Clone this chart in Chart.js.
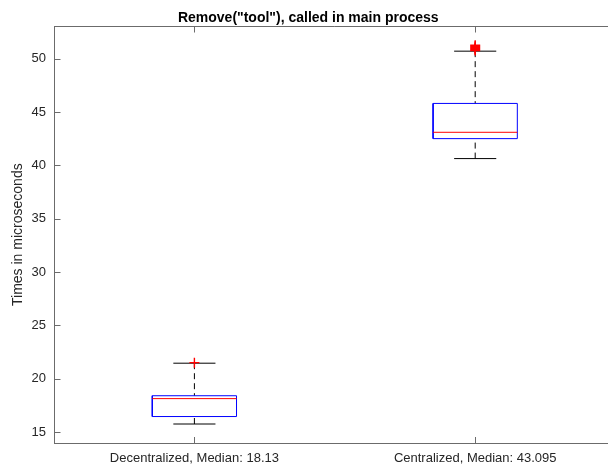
<!DOCTYPE html>
<html>
<head>
<meta charset="utf-8">
<script src="https://cdn.jsdelivr.net/npm/chart.js@4.4.1/dist/chart.umd.min.js"></script>
<style>
  html, body { margin: 0; padding: 0; overflow: hidden; background: #ffffff; }
  canvas { display: block; }
</style>
</head>
<body>
<canvas id="c" width="622" height="466"></canvas>
<script>
// Box plot summary per group (microseconds)
const categories  = ['Decentralized', 'Centralized'];
const positions   = [1, 2];
const medians     = [18.13, 43.095];
const q1          = [16.45, 42.5];
const q3          = [18.4, 45.8];
const whiskerLow  = [15.75, 40.63];
const whiskerHigh = [21.45, 50.7];
const outliers    = [[21.5], [50.75, 50.85, 50.95, 51.05, 51.15, 51.25]];
const yTicks      = [15, 20, 25, 30, 35, 40, 45, 50];

const FONT = "'Liberation Sans', Arial, Helvetica, sans-serif";
const AXIS = '#6b6b6b';
const TEXT = '#262626';
const BOX_HALF = 0.15;
const CAP_HALF = 0.075;

Chart.defaults.font.family = FONT;

function seg(points, color, extra) {
  return Object.assign({
    data: points,
    showLine: true,
    fill: false,
    tension: 0,
    pointRadius: 0,
    pointHoverRadius: 0,
    borderColor: color,
    borderWidth: 1,
    borderJoinStyle: 'miter'
  }, extra || {});
}

const datasets = [];
positions.forEach((x, i) => {
  // outliers
  datasets.push({
    data: outliers[i].map(v => ({ x: x, y: v })),
    showLine: false,
    pointStyle: 'cross',
    pointRadius: 5,
    pointHoverRadius: 5,
    pointBorderColor: '#ff0000',
    pointBorderWidth: 1.4,
    order: 0
  });
  // median
  datasets.push(seg([{ x: x - BOX_HALF, y: medians[i] }, { x: x + BOX_HALF, y: medians[i] }], '#ff0000', { order: 1 }));
  // box
  datasets.push(seg([
    { x: x - BOX_HALF, y: q1[i] }, { x: x + BOX_HALF, y: q1[i] },
    { x: x + BOX_HALF, y: q3[i] }, { x: x - BOX_HALF, y: q3[i] },
    { x: x - BOX_HALF, y: q1[i] }
  ], '#0000ff', { order: 2 }));
  // whiskers (dashed)
  datasets.push(seg([{ x: x, y: whiskerHigh[i] }, { x: x, y: q3[i] }], '#000000', { borderDash: [6, 4], order: 3 }));
  datasets.push(seg([{ x: x, y: whiskerLow[i] }, { x: x, y: q1[i] }], '#000000', { borderDash: [6, 4], order: 3 }));
  // whisker caps
  datasets.push(seg([{ x: x - CAP_HALF, y: whiskerHigh[i] }, { x: x + CAP_HALF, y: whiskerHigh[i] }], '#000000', { order: 3 }));
  datasets.push(seg([{ x: x - CAP_HALF, y: whiskerLow[i] }, { x: x + CAP_HALF, y: whiskerLow[i] }], '#000000', { order: 3 }));
});

// Top frame line and inward tick marks
const frame = {
  id: 'frame',
  afterDraw(chart) {
    const { ctx, chartArea, scales } = chart;
    const { left, right, top, bottom } = chartArea;
    ctx.save();
    ctx.strokeStyle = AXIS;
    ctx.lineWidth = 1;
    ctx.beginPath();
    const ty = Math.round(top) + 0.5;
    ctx.moveTo(left, ty); ctx.lineTo(right, ty);
    const lx = Math.round(left) + 0.5;
    yTicks.forEach(v => {
      const py = Math.round(scales.y.getPixelForValue(v)) + 0.5;
      ctx.moveTo(lx, py); ctx.lineTo(lx + 6, py);
    });
    positions.forEach(v => {
      const px = Math.round(scales.x.getPixelForValue(v)) + 0.5;
      ctx.moveTo(px, bottom); ctx.lineTo(px, bottom - 6);
      ctx.moveTo(px, ty); ctx.lineTo(px, ty + 6);
    });
    ctx.stroke();
    ctx.restore();
  }
};

new Chart(document.getElementById('c'), {
  type: 'scatter',
  data: { datasets },
  plugins: [frame],
  options: {
    responsive: false,
    animation: false,
    events: [],
    layout: { padding: { left: 0, right: 5.5, top: 0, bottom: 0 } },
    plugins: {
      legend: { display: false },
      tooltip: { enabled: false },
      title: {
        display: true,
        text: 'Remove("tool"), called in main process',
        color: '#000000',
        font: { size: 14, weight: 'bold', family: FONT },
        padding: { top: 9.5, bottom: 0 }
      }
    },
    scales: {
      x: {
        type: 'linear',
        min: 0.5,
        max: 2.5,
        afterBuildTicks: s => { s.ticks = positions.map(v => ({ value: v })); },
        afterFit: s => { s.height = 23; },
        grid: { display: false, drawTicks: false },
        border: { display: true, color: AXIS, width: 1 },
        ticks: {
          autoSkip: false,
          maxRotation: 0,
          padding: 8,
          color: TEXT,
          font: { size: 13, family: FONT },
          callback: v => {
            const i = positions.indexOf(v);
            return i < 0 ? '' : categories[i] + ', Median: ' + medians[i];
          }
        }
      },
      y: {
        type: 'linear',
        min: 13.97,
        max: 53.03,
        afterBuildTicks: s => { s.ticks = yTicks.map(v => ({ value: v })); },
        afterFit: s => { s.width = 54; },
        grid: { display: false, drawTicks: false },
        border: { display: true, color: AXIS, width: 1 },
        ticks: {
          padding: 8,
          color: TEXT,
          font: { size: 13, family: FONT },
          callback: v => String(v)
        },
        title: {
          display: true,
          text: 'Times in microseconds',
          color: TEXT,
          font: { size: 14, family: FONT },
          padding: { top: 10, bottom: 0 }
        }
      }
    }
  }
});
</script>
</body>
</html>
